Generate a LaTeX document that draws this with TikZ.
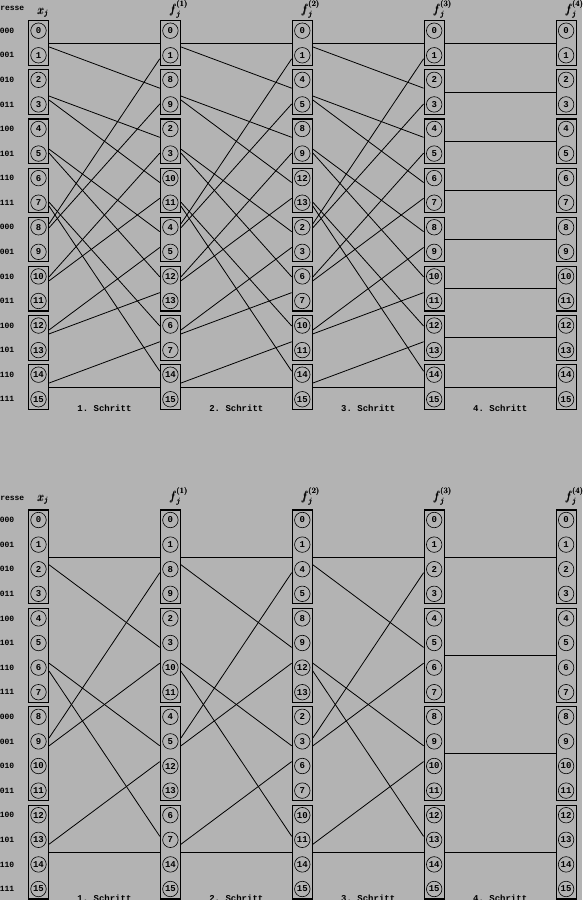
\documentclass[tikz,border=0pt]{standalone}
\usepackage{amsmath}
\usepackage{xcolor}
\usepackage{fontspec}
\setmonofont{Liberation Mono}
\definecolor{paper}{RGB}{179,179,179}

\begin{document}
\begin{tikzpicture}[x=1pt,y=-1pt,
    pairbox/.style={draw,line width=1.2pt,fill=paper,inner sep=0pt,minimum width=20pt},
    elem/.style={draw,circle,line width=0.6pt,inner sep=0pt,minimum size=15.5pt,font=\fontsize{9}{9}\selectfont\ttfamily\bfseries},
    lbl/.style={inner sep=0pt,font=\fontsize{8}{9}\selectfont\ttfamily\bfseries},
    head/.style={anchor=base west,inner sep=0pt,font=\fontsize{12}{12}\selectfont},
    flow/.style={line width=0.8pt}]

    % page
    \fill[paper] (0,0) rectangle (582,900);
    \useasboundingbox (0,0) rectangle (582,900);

    % upper network: boxes of two
    \foreach \c/\lst in {0/{0,1,2,3,4,5,6,7,8,9,10,11,12,13,14,15},
                         1/{0,1,8,9,2,3,10,11,4,5,12,13,6,7,14,15},
                         2/{0,1,4,5,8,9,12,13,2,3,6,7,10,11,14,15},
                         3/{0,1,2,3,4,5,6,7,8,9,10,11,12,13,14,15},
                         4/{0,1,2,3,4,5,6,7,8,9,10,11,12,13,14,15}} {
        \pgfmathsetmacro\xc{38.5+131.9*\c}
        \foreach \b in {0,...,7}
            \node[pairbox,minimum height=44.6pt] (t\c-\b) at (\xc,{30.7+24.57*(2*\b+0.5)}) {};
        \foreach \v [count=\k from 0] in \lst
            \node[elem] (tn\c-\k) at (\xc,{30.7+24.57*\k}) {\v};
    }

    % lower network: boxes of four
    \foreach \c/\lst in {0/{0,1,2,3,4,5,6,7,8,9,10,11,12,13,14,15},
                         1/{0,1,8,9,2,3,10,11,4,5,12,13,6,7,14,15},
                         2/{0,1,4,5,8,9,12,13,2,3,6,7,10,11,14,15},
                         3/{0,1,2,3,4,5,6,7,8,9,10,11,12,13,14,15},
                         4/{0,1,2,3,4,5,6,7,8,9,10,11,12,13,14,15}} {
        \pgfmathsetmacro\xc{38.5+131.9*\c}
        \foreach \b in {0,...,3}
            \node[pairbox,minimum height=93.8pt] (u\c-\b) at (\xc,{520+24.6*(4*\b+1.5)}) {};
        \foreach \v [count=\k from 0] in \lst
            \node[elem] (un\c-\k) at (\xc,{520+24.6*\k}) {\v};
    }

    % shuffle steps
    \foreach \c [evaluate=\c as \d using int(\c+1)] in {0,1,2} {
        \foreach \m [evaluate=\m as \e using int(\m+4),
                     evaluate=\m as \p using int(2*\m),
                     evaluate=\m as \q using int(2*\m+1)] in {0,...,3} {
            \draw[flow] (t\c-\m) -- (t\d-\p);
            \draw[flow] (t\c-\m) -- (t\d-\q);
            \draw[flow] (t\c-\e) -- (t\d-\p);
            \draw[flow] (t\c-\e) -- (t\d-\q);
        }
        \foreach \m [evaluate=\m as \e using int(\m+2),
                     evaluate=\m as \p using int(2*\m),
                     evaluate=\m as \q using int(2*\m+1)] in {0,1} {
            \draw[flow] (u\c-\m) -- (u\d-\p);
            \draw[flow] (u\c-\m) -- (u\d-\q);
            \draw[flow] (u\c-\e) -- (u\d-\p);
            \draw[flow] (u\c-\e) -- (u\d-\q);
        }
    }

    % last step
    \foreach \b in {0,...,7} \draw[flow] (t3-\b) -- (t4-\b);
    \foreach \b in {0,...,3} \draw[flow] (u3-\b) -- (u4-\b);

    % column heads
    \node[head] (th0) at (37.5,14) {$\pmb{x}_{\pmb{j}}$};
    \node[head] (uh0) at (37.5,501) {$\pmb{x}_{\pmb{j}}$};
    \foreach \c in {1,...,4} {
        \node[head] (th\c) at ({37.5+131.9*\c},13) {$\pmb{f}_{\pmb{j}}^{\pmb{(\c)}}$};
        \node[head] (uh\c) at ({37.5+131.9*\c},500) {$\pmb{f}_{\pmb{j}}^{\pmb{(\c)}}$};
    }

    % addresses
    \node[lbl,anchor=base east] (tad) at (24.5,10) {Adresse};
    \node[lbl,anchor=base east] (uad) at (24.5,500.7) {Adresse};
    \foreach \a [count=\k from 0] in {0000,0001,0010,0011,0100,0101,0110,0111,
                                     1000,1001,1010,1011,1100,1101,1110,1111} {
        \node[lbl,anchor=east] (ta\k) at (14.5,{30.7+24.57*\k}) {\a};
        \node[lbl,anchor=east] (ua\k) at (14.5,{520+24.6*\k}) {\a};
    }

    % steps
    \foreach \s in {1,...,4} {
        \node[lbl,anchor=base,font=\fontsize{9}{9}\selectfont\ttfamily\bfseries] (ts\s) at ({38.5+131.9*(\s-0.5)},411) {\s. Schritt};
        \node[lbl,anchor=base,font=\fontsize{9}{9}\selectfont\ttfamily\bfseries] (us\s) at ({38.5+131.9*(\s-0.5)},901) {\s. Schritt};
    }

\end{tikzpicture}
\end{document}
